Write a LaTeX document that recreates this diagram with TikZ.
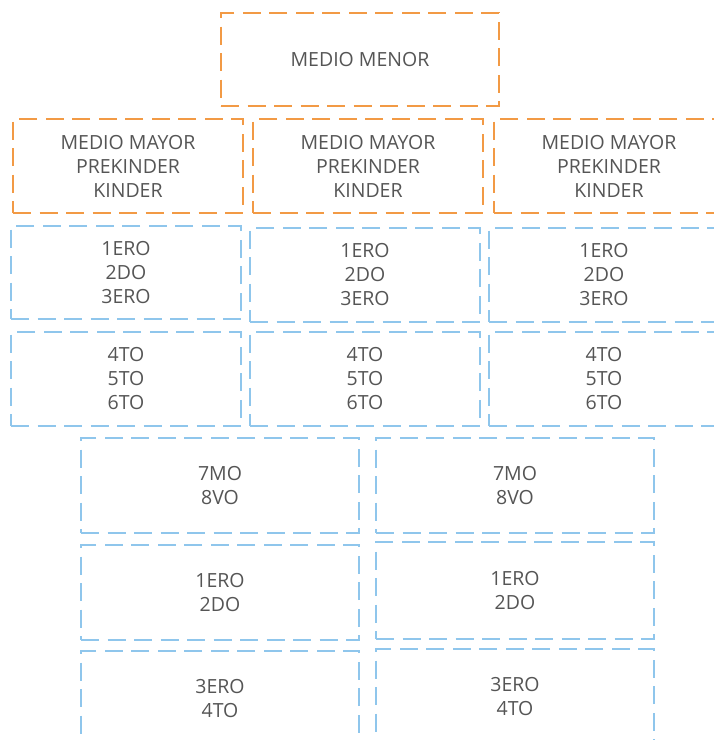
\documentclass[tikz,border=0pt]{standalone}
\usepackage{fontspec}
\setmainfont{Open Sans}
\usetikzlibrary{
  positioning,
}
\definecolor{boxorange}{HTML}{F29A45}
\definecolor{boxblue}{HTML}{8FC6EC}
\definecolor{textgray}{HTML}{555555}
\tikzset{
  level box/.style = {
    draw,
    line width=2.2pt,
    dash pattern=on 18pt off 8.5pt,
    inner sep=0pt,
    outer sep=0pt,
    align=center,
    anchor=north west,
    text=textgray,
    font=\fontsize{19.5}{24}\selectfont
  },
  orange box/.style = {
    level box,
    draw=boxorange,
    minimum width=230pt,
    minimum height=94pt
  },
  blue box/.style = {
    level box,
    draw=boxblue,
    minimum width=230pt,
    minimum height=94pt
  },
  wide box/.style = {
    level box,
    draw=boxblue,
    minimum width=278pt,
    minimum height=95pt
  },
}

\begin{document}
\begin{tikzpicture}[x=1pt, y=-1pt]
  \useasboundingbox (0,0) rectangle (714,740);
  \clip (0,0) rectangle (714,740);
  %% top
  \node (menor) [orange box, minimum width=278pt, minimum height=93pt] at (221,13) {MEDIO MENOR};
  %% orange row
  \node (mayor1) [orange box] at (13,119) {MEDIO MAYOR\\PREKINDER\\KINDER};
  \node (mayor2) [orange box, right=10pt of mayor1.north east, anchor=north west] {MEDIO MAYOR\\PREKINDER\\KINDER};
  \node (mayor3) [orange box, right=11pt of mayor2.north east, anchor=north west] {MEDIO MAYOR\\PREKINDER\\KINDER};
  %% basic rows
  \node (basA1) [blue box, minimum height=93pt] at (11,226) {1ERO\\2DO\\3ERO};
  \node (basA2) [blue box] at (250,228) {1ERO\\2DO\\3ERO};
  \node (basA3) [blue box] at (489,228) {1ERO\\2DO\\3ERO};
  \node (basB1) [blue box] at (11,332) {4TO\\5TO\\6TO};
  \node (basB2) [blue box] at (250,332) {4TO\\5TO\\6TO};
  \node (basB3) [blue box] at (489,332) {4TO\\5TO\\6TO};
  %% lower columns
  \node (sup1) [wide box] at (81,438) {7MO\\8VO};
  \node (sup2) [wide box] at (81,545) {1ERO\\2DO};
  \node (sup3) [wide box] at (81,651) {3ERO\\4TO};
  \node (sup4) [wide box] at (376,438) {7MO\\8VO};
  \node (sup5) [wide box, minimum height=97pt] at (376,542) {1ERO\\2DO};
  \node (sup6) [wide box] at (376,649) {3ERO\\4TO};
\end{tikzpicture}
\end{document}
